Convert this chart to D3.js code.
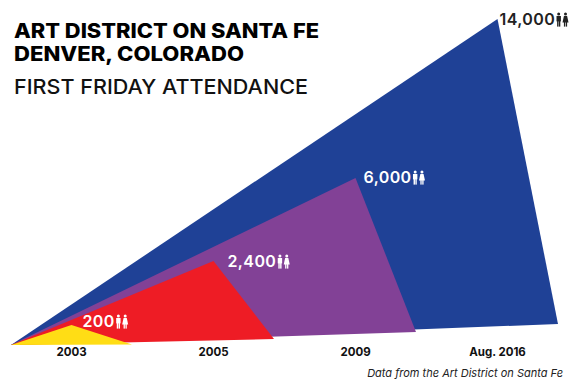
<!DOCTYPE html>
<html>
<head>
<meta charset="utf-8">
<script src="https://cdn.jsdelivr.net/npm/d3@7"></script>
<style>
html, body { margin: 0; padding: 0; background: #fff; }
svg { display: block; }
text { font-family: "Inter", sans-serif; }
</style>
</head>
<body>
<div id="chart"></div>
<script>
// Donnees
var years = ["2003", "2005", "2009", "Aug. 2016"];
var attendance = [200, 2400, 6000, 14000];
var labels = ["200", "2,400", "6,000", "14,000"];
var colors = ["#ffdd15", "#ee1c25", "#824196", "#1f4196"];
var labelColors = ["#fff", "#fff", "#fff", "#222"];

var width = 580;
var height = 387;
var baseY = 345; // Ligne de base commune
var originX = 11;

var svg = d3.select("#chart").append("svg")
    .attr("width", width)
    .attr("height", height);

// Echelles
var x = d3.scaleBand()
    .domain(years)
    .range([originX, 558])
    .paddingInner(0.148)
    .paddingOuter(0);

// L'echelle de l'original n'est pas lineaire
var y = d3.scaleLinear()
    .domain([0, 200, 2400, 6000, 14000])
    .range([baseY, 325, 261, 178, 19]);

// Le pied droit de chaque triangle remonte un peu
var yFoot = d3.scaleLinear()
    .domain([0, 200, 2400, 6000, 14000])
    .range([baseY, 344.5, 339, 332, 324]);

var line = d3.line();

// Triangles, du plus grand au plus petit
var order = d3.range(years.length).reverse();

svg.selectAll("path.tri")
    .data(order)
    .enter()
    .append("path")
    .attr("class", "tri")
    .attr("fill", function (i) { return colors[i]; })
    .attr("d", function (i) {
        var left = x(years[i]);
        return line([
            [originX, baseY],
            [left + x.bandwidth() / 2, y(attendance[i])],
            [left + x.bandwidth(), yFoot(attendance[i])]
        ]) + "Z";
    });

// Axe des annees
var axis = d3.axisBottom(x).tickSize(0).tickPadding(3);
var axisG = svg.append("g")
    .attr("transform", "translate(0," + baseY + ")")
    .call(axis);
axisG.select(".domain").remove();
axisG.selectAll("text")
    .attr("fill", "#111")
    .style("font-family", "Inter, sans-serif")
    .style("font-size", "11.5px")
    .style("font-weight", 700);

// Decalage des etiquettes par rapport au sommet
var labelDx = [11, 14, 8, 2];
var labelDy = [2, 6, 5, 6];
var labelSize = 16;

function people(g, px, py, c) {
    // Petit homme et petite femme, hauteur 14px environ
    var man = g.append("g").attr("transform", "translate(" + px + "," + py + ")").attr("fill", c);
    man.append("circle").attr("cx", 2.6).attr("cy", -11).attr("r", 1.5);
    man.append("rect").attr("x", 0.4).attr("y", -9).attr("width", 4.4).attr("height", 5.4);
    man.append("rect").attr("x", 1).attr("y", -4).attr("width", 1.4).attr("height", 5.6);
    man.append("rect").attr("x", 2.8).attr("y", -4).attr("width", 1.4).attr("height", 5.6);
    var woman = g.append("g").attr("transform", "translate(" + (px + 6.6) + "," + py + ")").attr("fill", c);
    woman.append("circle").attr("cx", 2.8).attr("cy", -11).attr("r", 1.5);
    woman.append("path").attr("d", "M1.2,-9H4.4L5.8,-2.6H-0.2Z");
    woman.append("rect").attr("x", 1.2).attr("y", -3).attr("width", 1.3).attr("height", 4.6);
    woman.append("rect").attr("x", 3.1).attr("y", -3).attr("width", 1.3).attr("height", 4.6);
}

years.forEach(function (yr, i) {
    var px = x(yr) + x.bandwidth() / 2 + labelDx[i];
    var py = y(attendance[i]) + labelDy[i];
    var g = svg.append("g");
    var t = g.append("text")
        .attr("x", px)
        .attr("y", py)
        .attr("fill", labelColors[i])
        .style("font-size", labelSize + "px")
        .style("font-weight", 600)
        .style("letter-spacing", "0.4px")
        .text(labels[i]);
    people(g, px + t.node().getComputedTextLength() + 1, py, labelColors[i]);
});

// Titres
svg.append("text").attr("x", 14).attr("y", 38)
    .attr("fill", "#000")
    .style("font-size", "20px").style("font-weight", 800)
    .attr("textLength", 305).attr("lengthAdjust", "spacingAndGlyphs")
    .text("ART DISTRICT ON SANTA FE");
svg.append("text").attr("x", 14).attr("y", 61)
    .attr("fill", "#000")
    .style("font-size", "20px").style("font-weight", 800)
    .attr("textLength", 230).attr("lengthAdjust", "spacingAndGlyphs")
    .text("DENVER, COLORADO");
svg.append("text").attr("x", 14).attr("y", 94)
    .attr("fill", "#111")
    .style("font-size", "20px").style("font-weight", 450)
    .attr("textLength", 294).attr("lengthAdjust", "spacingAndGlyphs")
    .text("FIRST FRIDAY ATTENDANCE");

// Source
svg.append("text").attr("x", 563).attr("y", 377)
    .attr("text-anchor", "end")
    .attr("fill", "#222")
    .style("font-size", "11px").style("font-style", "italic").style("font-weight", 400)
    .text("Data from the Art District on Santa Fe");
</script>
</body>
</html>
